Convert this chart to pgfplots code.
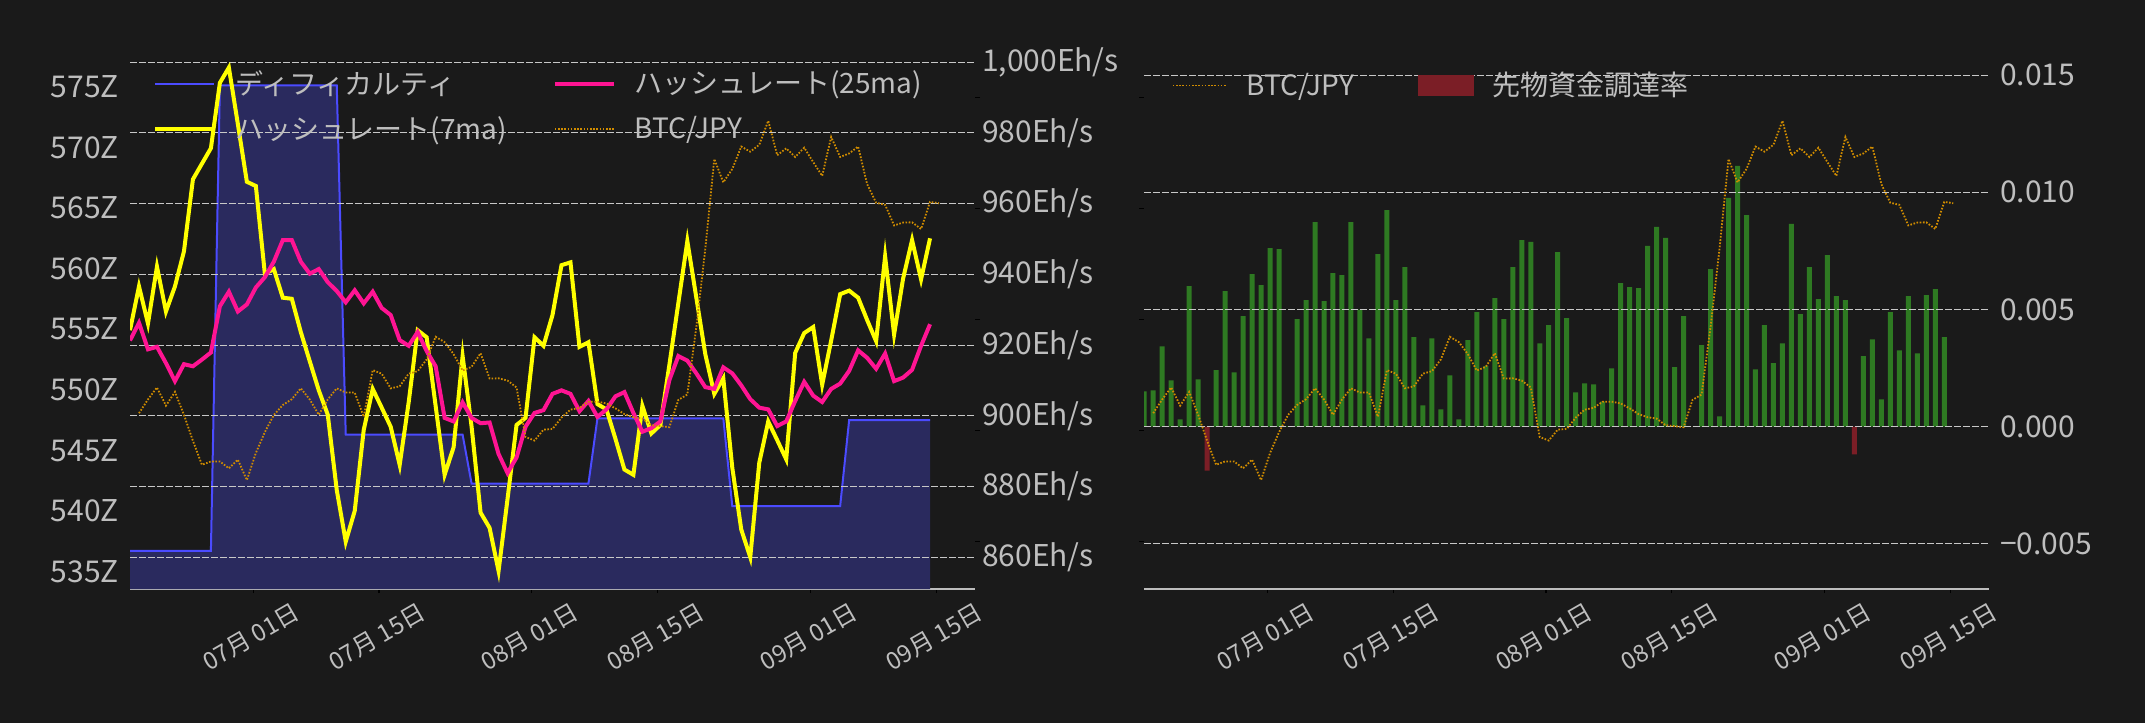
\documentclass[border=0pt]{standalone}
\usepackage{pgfplots}
\pgfplotsset{compat=1.18}
\usepackage{pgfplotstable}
\usepackage{fontspec}
\setmainfont{Noto Sans CJK JP}
\newcommand{\fs}{\fontsize{14pt}{16pt}\selectfont}
\newcommand{\fsy}{\fontsize{15pt}{17pt}\selectfont}
\newcommand{\fsx}{\fontsize{12pt}{14pt}\selectfont}

\definecolor{bg}{HTML}{1A1A1A}
\definecolor{txt}{HTML}{BEBEBE}
\definecolor{gridc}{HTML}{C8C8C8}
\definecolor{axisc}{HTML}{BDBDBD}
\definecolor{diffline}{HTML}{4B4BFF}
\definecolor{difffill}{HTML}{2A2A5E}
\definecolor{hr7}{HTML}{FFFF00}
\definecolor{hr25}{HTML}{FF1493}
\definecolor{btc}{HTML}{D08C00}
\definecolor{fundg}{HTML}{2E7A22}
\definecolor{fundr}{HTML}{7B1E26}

% difficulty (Z), one row per day, k = 0 is the left edge
\pgfplotstableread{
k d
0 536.72
9 536.72
10 575.10
23 575.10
24 546.29
37 546.29
38 542.26
51 542.26
52 547.65
66 547.65
67 540.41
79 540.41
80 547.50
89 547.50
}\diff

% hashrate 7ma / 25ma (Eh/s)
\pgfplotstableread{
k h7 h25
0 924.2 921.3
1 936.6 926.3
2 926.1 918.8
3 942.2 919.5
4 929.5 914.9
5 936.6 909.8
6 946.5 914.6
7 966.9 914.0
8 971.3 915.9
9 975.7 917.9
10 994.2 931.0
11 998.5 935.1
12 982.5 929.5
13 966.2 931.5
14 965.0 936.3
15 940.2 939.2
16 941.5 943.6
17 933.4 949.7
18 933.1 949.7
19 923.7 943.6
20 915.4 940.2
21 907.2 941.5
22 900.3 937.8
23 879.0 935.3
24 864.4 932.1
25 873.1 935.5
26 896.0 931.8
27 907.6 935.1
28 902.3 930.5
29 896.9 928.5
30 886.1 921.4
31 903.8 919.8
32 924.2 923.7
33 922.2 918.3
34 902.8 914.0
35 883.3 899.4
36 891.1 898.4
37 916.9 903.8
38 896.9 899.4
39 872.6 897.9
40 868.3 898.1
41 856.1 889.2
42 876.5 883.8
43 897.4 888.2
44 899.4 896.9
45 922.2 900.8
46 919.8 901.6
47 928.5 906.2
48 942.6 907.2
49 943.4 906.2
50 919.5 901.3
51 920.8 904.2
52 903.3 899.7
53 901.8 901.8
54 893.5 905.5
55 884.8 906.7
56 883.3 900.8
57 902.8 895.5
58 895.0 896.5
59 897.4 898.4
60 914.4 910.1
61 931.9 916.9
62 949.4 915.6
63 933.4 912.0
64 917.4 908.1
65 906.2 907.6
66 910.6 913.7
67 885.3 912.0
68 867.8 908.6
69 860.0 904.7
70 886.7 902.3
71 898.4 901.8
72 893.1 897.1
73 887.7 898.4
74 917.8 904.2
75 923.4 909.6
76 925.1 905.7
77 908.8 903.9
78 921.3 907.6
79 934.4 909.1
80 935.4 912.7
81 933.4 918.5
82 927.1 916.4
83 921.1 913.3
84 945.1 917.6
85 923.0 909.8
86 938.8 910.8
87 949.7 913.0
88 938.6 919.8
89 950.2 925.9
}\hash

% BTC/JPY (10k JPY), axis labels hidden in the chart
\pgfplotstableread{
k b
1 1507.8
2 1514.0
3 1519.4
4 1511.2
5 1517.4
6 1507.1
7 1495.4
8 1484.6
9 1486.1
10 1486.1
11 1483.0
12 1486.9
13 1477.7
14 1489.9
15 1499.3
16 1507.0
17 1511.5
18 1514.1
19 1519.0
20 1514.0
21 1507.1
22 1514.0
23 1519.0
24 1517.1
25 1517.1
26 1506.2
27 1527.2
28 1525.6
29 1519.0
30 1519.9
31 1525.6
32 1526.7
33 1532.0
34 1542.2
35 1539.8
36 1534.4
37 1527.0
38 1528.7
39 1534.8
40 1523.4
41 1523.5
42 1522.5
43 1519.4
44 1497.1
45 1495.5
46 1500.4
47 1500.7
48 1505.8
49 1509.4
50 1510.2
51 1513.0
52 1513.0
53 1512.2
54 1510.0
55 1507.4
56 1506.0
57 1505.4
58 1502.4
59 1502.0
60 1501.5
61 1513.8
62 1516.2
63 1546.6
64 1581.8
65 1622.2
66 1611.7
67 1617.7
68 1627.8
69 1625.5
70 1628.6
71 1639.4
72 1623.9
73 1627.0
74 1623.1
75 1627.3
76 1620.8
77 1614.6
78 1632.1
79 1623.1
80 1624.7
81 1627.8
82 1610.9
83 1602.5
84 1601.6
85 1592.3
86 1593.6
87 1593.7
88 1590.7
89 1602.9
90 1602.3
}\btcjpy

% funding rate
\pgfplotstableread{
k f
0 0.00151
1 0.00155
2 0.00343
3 0.00198
4 0.00031
5 0.00600
6 0.00202
7 -0.00187
8 0.00241
9 0.00578
10 0.00232
11 0.00472
12 0.00651
13 0.00604
14 0.00762
15 0.00758
16 0.00003
17 0.00459
18 0.00540
19 0.00873
20 0.00536
21 0.00655
22 0.00647
23 0.00873
24 0.00500
25 0.00377
26 0.00736
27 0.00924
28 0.00540
29 0.00681
30 0.00382
31 0.00091
32 0.00377
33 0.00074
34 0.00219
35 0.00031
36 0.00369
37 0.00489
38 0.00258
39 0.00548
40 0.00459
41 0.00681
42 0.00796
43 0.00788
44 0.00356
45 0.00433
46 0.00745
47 0.00463
48 0.00147
49 0.00185
50 0.00181
51 0.00107
52 0.00249
53 0.00613
54 0.00595
55 0.00591
56 0.00771
57 0.00852
58 0.00805
59 0.00254
60 0.00472
61 0.00000
62 0.00348
63 0.00672
64 0.00044
65 0.00976
66 0.01113
67 0.00903
68 0.00245
69 0.00433
70 0.00271
71 0.00356
72 0.00865
73 0.00480
74 0.00681
75 0.00544
76 0.00732
77 0.00557
78 0.00540
79 -0.00118
80 0.00301
81 0.00373
82 0.00117
83 0.00489
84 0.00326
85 0.00557
86 0.00313
87 0.00561
88 0.00587
89 0.00382
}\fund

\pgfplotsset{
  base/.style={
    scale only axis, width=422.5pt, height=270pt,
    anchor=south west, xmin=0, xmax=94,
    y tick label style={font=\fsy, text=txt},
    x tick label style={font=\fsx, text=txt},
    scaled y ticks=false,
  },
  dates/.style={
    axis x line*=bottom,
    x axis line style={draw=axisc, line width=1.1pt, -},
    xtick={13.7,27.7,44.7,58.7,75.7,89.7},
    xticklabels={07月 01日,07月 15日,08月 01日,08月 15日,09月 01日,09月 15日},
    % shift first (unrotated frame), then rotate about the label centre
    x tick label style={xshift=-1pt, yshift=-22pt, rotate=30, anchor=center},
    xtick style={draw=black, line width=0.6pt},
    tick align=outside, major tick length=2pt,
  },
  hidden btc/.style={
    ymin=1428.7, ymax=1671.7,
    axis x line=none, y axis line style={draw=none},
    ytick={1450,1500,1550,1600,1650}, yticklabels={},
    ytick style={draw=black, line width=0.6pt},
    tick align=outside, major tick length=2.5pt,
  },
  dgrid/.style={
    ymajorgrids,
    grid style={gridc, line width=0.5pt, dash pattern=on 3.3pt off 1.2pt},
  },
  leg/.style={
    legend style={draw=none, fill=none, font=\fs, text=txt,
      anchor=north west, legend columns=2, inner sep=0pt, row sep=5.5pt,
      /tikz/every odd column/.append style={column sep=7.5pt}},
    legend cell align=left,
  },
}

\begin{document}
\begin{tikzpicture}
\fill[bg] (0,0) rectangle (1072.5pt,361.5pt);
\useasboundingbox (0,0) rectangle (1072.5pt,361.5pt);

% ---- left panel: difficulty
\begin{axis}[base, dates, at={(65pt,67pt)},
  ymin=533.57, ymax=578.1,
  axis y line*=left, y axis line style={draw=none},
  ytick={535,540,545,550,555,560,565,570,575},
  yticklabels={535Z,540Z,545Z,550Z,555Z,560Z,565Z,570Z,575Z},
  ytick style={draw=none},
]
\addplot[draw=none, fill=difffill] table[x=k, y=d] {\diff} \closedcycle;
\addplot[diffline, line width=1pt] table[x=k, y=d] {\diff};
\end{axis}

% ---- left panel: hashrate
\begin{axis}[base, dgrid, at={(65pt,67pt)},
  ymin=851.0, ymax=1003.76,
  axis x line=none, axis y line*=right, y axis line style={draw=none},
  ytick={860,880,900,920,940,960,980,1000},
  yticklabels={860Eh/s,880Eh/s,900Eh/s,920Eh/s,940Eh/s,960Eh/s,980Eh/s,{1,000Eh/s}},
  ytick style={draw=none},
]
\addplot[hr7, line width=2pt] table[x=k, y=h7] {\hash};
\addplot[hr25, line width=2pt] table[x=k, y=h25] {\hash};
\end{axis}

% ---- left panel: BTC/JPY and legend
\begin{axis}[base, hidden btc, leg, at={(65pt,67pt)},
  axis y line*=right,
  legend style={at={(0.027,0.9686)},
    /tikz/every even column/.append style={column sep=21pt}},
  legend image code/.code={\draw[#1] (0pt,0pt) -- (29.5pt,0pt);},
]
\addlegendimage{diffline, line width=1pt}
\addlegendentry{ディフィカルティ}
\addlegendimage{hr25, line width=2pt}
\addlegendentry{ハッシュレート(25ma)}
\addlegendimage{hr7, line width=2pt}
\addlegendentry{ハッシュレート(7ma)}
\addplot[btc, line width=0.9pt, dash pattern=on 0.8pt off 0.8pt] table[x=k, y=b] {\btcjpy};
\addlegendentry{BTC/JPY}
\end{axis}

% ---- right panel: funding rate
\begin{axis}[base, dates, dgrid, at={(572.1pt,67pt)}, axis on top,
  ymin=-0.00692, ymax=0.01611,
  axis y line*=right, y axis line style={draw=none},
  ytick={-0.005,0,0.005,0.01,0.015},
  yticklabels={−0.005,0.000,0.005,0.010,0.015},
  ytick style={draw=none},
  ybar, bar width=2.5pt,
]
\addplot[fill=fundg, draw=none, bar shift=0pt, restrict y to domain=0:1] table[x=k, y=f] {\fund};
\addplot[fill=fundr, draw=none, bar shift=0pt, restrict y to domain=-1:0] table[x=k, y=f] {\fund};
\end{axis}

% ---- right panel: BTC/JPY and legend
\begin{axis}[base, hidden btc, leg, at={(572.1pt,67pt)},
  axis y line*=left,
  legend style={at={(0.0324,0.965)},
    /tikz/every even column/.append style={column sep=30pt}},
  legend image code/.code={\draw[#1] (0pt,0pt) -- (27pt,0pt);},
]
\addplot[btc, line width=0.9pt, dash pattern=on 0.8pt off 0.8pt] table[x=k, y=b] {\btcjpy};
\addlegendentry{BTC/JPY}
\addlegendimage{legend image code/.code={\fill[fundr] (0pt,-5pt) rectangle (27.5pt,5pt);}}
\addlegendentry{先物資金調達率}
\end{axis}
\end{tikzpicture}
\end{document}
